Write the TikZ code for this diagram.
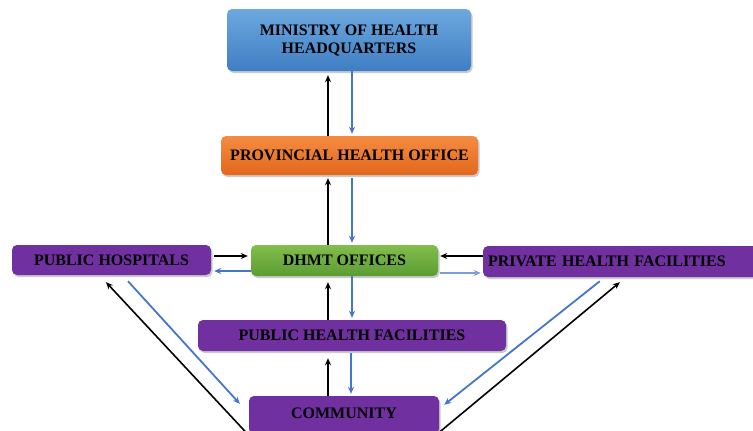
\documentclass[tikz,border=0pt]{standalone}
\usepackage{fontspec}
\setmainfont{Liberation Serif}
\usetikzlibrary{arrows.meta,shadows,calc}
\definecolor{mblueT}{HTML}{6DA8DE}
\definecolor{mblueB}{HTML}{3F7EC4}
\definecolor{morT}{HTML}{F48C42}
\definecolor{morB}{HTML}{E2671C}
\definecolor{mgrT}{HTML}{82BE4C}
\definecolor{mgrB}{HTML}{5C9C34}
\definecolor{mpur}{HTML}{7030A0}
\definecolor{arrblue}{HTML}{4476CC}
\tikzset{
  box/.style={rounded corners=5pt, draw=none, font=\fontsize{16}{18}\selectfont\bfseries,
    align=center, inner sep=0pt,
    drop shadow={shadow xshift=1.5pt, shadow yshift=-2pt, opacity=0.35, fill=black!60}},
  bluebox/.style={box, top color=mblueT, bottom color=mblueB},
  orbox/.style={box, top color=morT, bottom color=morB},
  grbox/.style={box, top color=mgrT, bottom color=mgrB},
  purbox/.style={box, fill=mpur},
  blk/.style={draw=black, line width=1.6pt, -{Stealth[length=7pt,width=6pt]}},
  blu/.style={draw=arrblue, line width=1.8pt, -{Stealth[length=7pt,width=6pt]}},
}
\begin{document}
\begin{tikzpicture}[x=1pt,y=-1pt]
\useasboundingbox (0,0) rectangle (753,431);
\node[bluebox, minimum width=244pt, minimum height=62pt] (moh) at (349,40) {MINISTRY OF HEALTH\\HEADQUARTERS};
\node[orbox, minimum width=257pt, minimum height=39pt] (pho) at (349.5,155.5) {PROVINCIAL HEALTH OFFICE};
\node[grbox, minimum width=187pt, minimum height=31pt] (dhmt) at (344.5,260.5) {DHMT OFFICES};
\node[purbox, minimum width=199pt, minimum height=30pt] (pub) at (111.5,260) {PUBLIC HOSPITALS};
\node[purbox, minimum width=278pt, minimum height=31pt, text width=268pt, align=left, inner xsep=5pt] (priv) at (622,261.5) {PRIVATE HEALTH FACILITIES};
\node[purbox, minimum width=308pt, minimum height=31pt] (phf) at (352,335.5) {PUBLIC HEALTH FACILITIES};
\node[purbox, minimum width=190pt, minimum height=38pt] (comm) at (344,415) {\raisebox{3pt}{COMMUNITY}};

% vertical links
\draw[blk] (pho.north -| 328,0) -- ($(moh.south -| 328,0)+(0,4)$);
\draw[blu] (moh.south -| 352,0) -- ($(pho.north -| 352,0)+(0,-2)$);
\draw[blk] (dhmt.north -| 328,0) -- ($(pho.south -| 328,0)+(0,3)$);
\draw[blu] ($(pho.south -| 352,0)+(0,3)$) -- ($(dhmt.north -| 352,0)+(0,-2)$);
\draw[blk] (phf.north -| 328,0) -- ($(dhmt.south -| 328,0)+(0,6)$);
\draw[blu] (dhmt.south -| 352,0) -- ($(phf.north -| 352,0)+(0,-2)$);
\draw[blk] (comm.north -| 328,0) -- ($(phf.south -| 328,0)+(0,7)$);
\draw[blu] ($(phf.south -| 351,0)+(0,2)$) -- ($(comm.north -| 351,0)+(0,-2)$);

% horizontal links
\draw[blk] ($(pub.east)+(3,-4)$) -- ($(dhmt.west)+(-3,-4.5)$);
\draw[blu] ($(dhmt.west)+(0,10.5)$) -- ($(pub.east)+(3,11)$);
\draw[blk] ($(priv.west)+(0,-5.5)$) -- ($(dhmt.east)+(2,-4.5)$);
\draw[blu, draw=arrblue!70] ($(dhmt.east)+(2,12.5)$) -- ($(priv.west)+(-2,11.5)$);

% diagonal links
\draw[blu] ($(pub.south)+(16.5,6)$) -- ($(comm.north west)+(-9,8)$);
\draw[blk] ($(comm.south west)+(-2,-1)$) -- ($(pub.south)+(-5.5,7)$);
\draw[blu] ($(priv.south west)+(117,4)$) -- ($(comm.north east)+(5,9)$);
\draw[blk] ($(comm.south east)+(-1,-1)$) -- ($(priv.south west)+(137,5)$);
\end{tikzpicture}
\end{document}
